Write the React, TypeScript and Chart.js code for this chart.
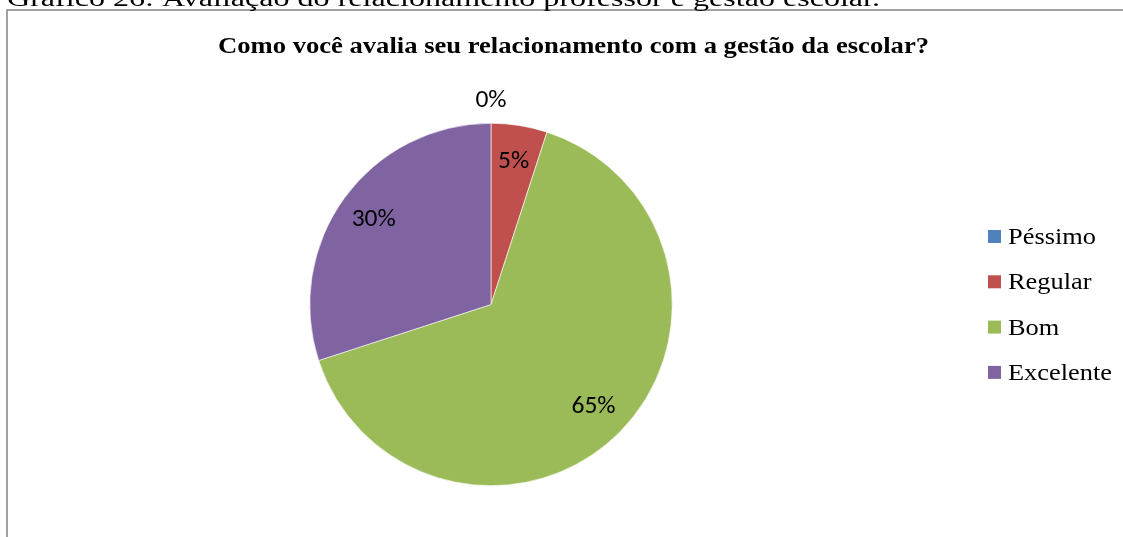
import React, { useEffect, useRef } from "react";
import { Chart, registerables } from "chart.js";

Chart.register(...registerables);

const categories = ["Péssimo", "Regular", "Bom", "Excelente"];
const values = [0, 5, 65, 30];
const valueLabels = ["0%", "5%", "65%", "30%"];
const colors = ["#4F81BD", "#C0504D", "#9BBB59", "#8064A2"];
const titleText = "Como você avalia seu relacionamento com a gestão da escolar?";
const captionText = "Gráfico 26: Avaliação do relacionamento professor e gestão escolar.";

const SERIF = "'Liberation Serif', 'Times New Roman', Times, serif";
const SANS = "Carlito, 'Open Sans', 'Liberation Sans', sans-serif";

function drawFitted(
  ctx: CanvasRenderingContext2D,
  text: string,
  x: number,
  y: number,
  font: string,
  width: number | null,
  scaleX?: number
) {
  ctx.save();
  ctx.font = font;
  ctx.textAlign = "left";
  ctx.textBaseline = "alphabetic";
  const w = ctx.measureText(text).width;
  const s = scaleX !== undefined ? scaleX : width ? width / w : 1;
  ctx.translate(x, y);
  ctx.scale(s, 1);
  ctx.fillText(text, 0, 0);
  ctx.restore();
}

const decorPlugin = {
  id: "decor",
  beforeDraw(chart: any) {
    const ctx: CanvasRenderingContext2D = chart.ctx;
    ctx.save();
    ctx.fillStyle = "#ffffff";
    ctx.fillRect(0, 0, chart.width, chart.height);
    ctx.strokeStyle = "#8a8a8a";
    ctx.lineWidth = 1.6;
    ctx.strokeRect(7, 10, 1200, 600);
    ctx.restore();

    ctx.save();
    ctx.fillStyle = "#000000";
    drawFitted(ctx, captionText, 7, 5.5, `23px ${SERIF}`, 873);
    drawFitted(ctx, titleText, 218, 52.5, `bold 24px ${SERIF}`, 711);
    ctx.font = `23px ${SERIF}`;
    const exW = ctx.measureText("Excelente").width;
    const sx = 104 / exW;
    const baseY = 244;
    const step = 45.3;
    categories.forEach((c, i) => {
      const y = baseY + i * step;
      ctx.fillStyle = colors[i];
      ctx.fillRect(988, y - 14, 13, 13);
      ctx.fillStyle = "#000000";
      drawFitted(ctx, c, 1008, y, `23px ${SERIF}`, null, sx);
    });
    ctx.restore();
  },
  afterDatasetsDraw(chart: any) {
    const ctx: CanvasRenderingContext2D = chart.ctx;
    const meta = chart.getDatasetMeta(0);
    ctx.save();
    ctx.font = `25.5px ${SANS}`;
    ctx.fillStyle = "#000000";
    ctx.textAlign = "center";
    ctx.textBaseline = "middle";
    meta.data.forEach((arc: any, i: number) => {
      const p = arc.getProps(["x", "y", "startAngle", "endAngle", "outerRadius"], true);
      const mid = (p.startAngle + p.endAngle) / 2;
      const r = values[i] === 0 ? p.outerRadius + 23 : p.outerRadius * 0.8;
      const lx = p.x + Math.cos(mid) * r;
      const ly = p.y + Math.sin(mid) * r;
      ctx.fillText(valueLabels[i], lx, ly);
    });
    ctx.restore();
  },
};

export default function App() {
  const ref = useRef<HTMLCanvasElement | null>(null);
  useEffect(() => {
    let chart: any = null;
    let cancelled = false;
    const make = () => {
      if (cancelled || !ref.current) return;
      chart = new Chart(ref.current, {
        type: "pie",
        data: {
          labels: categories,
          datasets: [
            {
              data: values,
              backgroundColor: colors,
              borderColor: "#ffffff",
              borderWidth: 0.6,
            },
          ],
        },
        options: {
          responsive: false,
          animation: false,
          layout: {
            padding: { left: 309.5, right: 450.5, top: 123, bottom: 51 },
          },
          plugins: {
            legend: { display: false },
            title: { display: false },
            tooltip: { enabled: false },
          },
        },
        plugins: [decorPlugin],
      });
    };
    const fonts: any = (document as any).fonts;
    if (fonts && fonts.load) {
      Promise.all([
        fonts.load(`23px 'Liberation Serif'`),
        fonts.load(`bold 24px 'Liberation Serif'`),
        fonts.load(`25px Carlito`),
      ])
        .catch(() => null)
        .then(() => make());
    } else {
      make();
    }
    return () => {
      cancelled = true;
      if (chart) chart.destroy();
    };
  }, []);
  return (
    <div style={{ position: "absolute", left: 0, top: 0, width: 1123, height: 537, overflow: "hidden", background: "#fff" }}>
      <canvas ref={ref} width={1123} height={537} style={{ display: "block", width: 1123, height: 537 }} />
    </div>
  );
}
